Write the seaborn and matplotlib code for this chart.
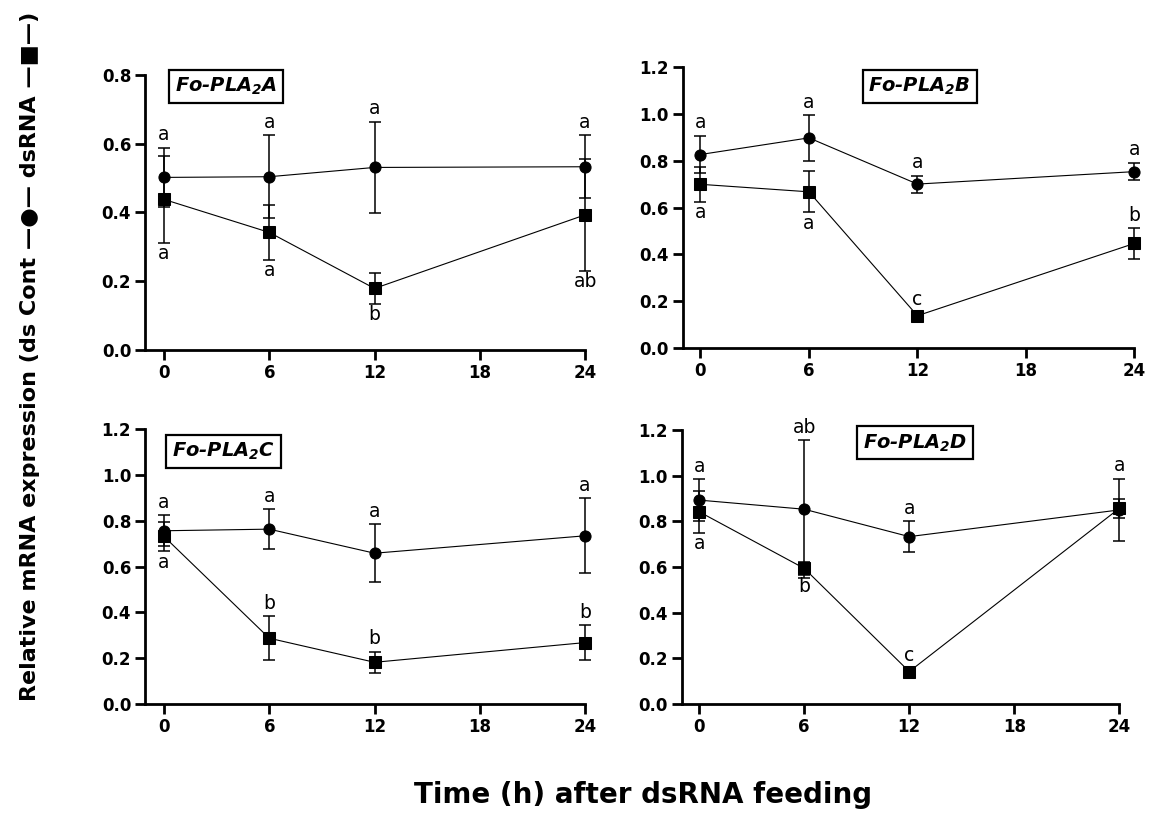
import numpy as np
import pandas as pd
import seaborn as sns
import matplotlib.pyplot as plt

# ---- data ----
times = [0, 6, 12, 24]
groups = ["dsCont", "dsRNA"]
panel_names = ["A", "B", "C", "D"]

cont_A = [0.502, 0.504, 0.531, 0.533]
cont_A_err = [0.087, 0.120, 0.133, 0.092]
rna_A = [0.438, 0.342, 0.179, 0.393]
rna_A_err = [0.127, 0.080, 0.044, 0.163]

cont_B = [0.826, 0.897, 0.700, 0.753]
cont_B_err = [0.079, 0.097, 0.036, 0.037]
rna_B = [0.699, 0.667, 0.139, 0.447]
rna_B_err = [0.075, 0.088, 0.012, 0.065]

cont_C = [0.756, 0.763, 0.658, 0.734]
cont_C_err = [0.068, 0.088, 0.127, 0.163]
rna_C = [0.731, 0.287, 0.182, 0.268]
rna_C_err = [0.065, 0.097, 0.047, 0.076]

cont_D = [0.893, 0.853, 0.733, 0.850]
cont_D_err = [0.091, 0.303, 0.068, 0.137]
rna_D = [0.842, 0.594, 0.142, 0.857]
rna_D_err = [0.093, 0.030, 0.012, 0.041]

# significance letters: (time index, letter, group, side)
letters_A = [(0, "a", "dsCont", "up"), (0, "a", "dsRNA", "down"),
             (1, "a", "dsCont", "up"), (1, "a", "dsRNA", "down"),
             (2, "a", "dsCont", "up"), (2, "b", "dsRNA", "down"),
             (3, "a", "dsCont", "up"), (3, "ab", "dsRNA", "down")]
letters_B = [(0, "a", "dsCont", "up"), (0, "a", "dsRNA", "down"),
             (1, "a", "dsCont", "up"), (1, "a", "dsRNA", "down"),
             (2, "a", "dsCont", "up"), (2, "c", "dsRNA", "up"),
             (3, "a", "dsCont", "up"), (3, "b", "dsRNA", "up")]
letters_C = [(0, "a", "dsCont", "up"), (0, "a", "dsRNA", "down"),
             (1, "a", "dsCont", "up"), (1, "b", "dsRNA", "up"),
             (2, "a", "dsCont", "up"), (2, "b", "dsRNA", "up"),
             (3, "a", "dsCont", "up"), (3, "b", "dsRNA", "up")]
letters_D = [(0, "a", "dsCont", "up"), (0, "a", "dsRNA", "down"),
             (1, "ab", "dsCont", "up"), (1, "b", "dsRNA", "down"),
             (2, "a", "dsCont", "up"), (2, "c", "dsRNA", "up"),
             (3, "a", "dsCont", "up")]

titles = {"A": "Fo-PLA$_2$A", "B": "Fo-PLA$_2$B", "C": "Fo-PLA$_2$C", "D": "Fo-PLA$_2$D"}
ymax = {"A": 0.8, "B": 1.2, "C": 1.2, "D": 1.2}

series = {
    "A": (cont_A, cont_A_err, rna_A, rna_A_err, letters_A),
    "B": (cont_B, cont_B_err, rna_B, rna_B_err, letters_B),
    "C": (cont_C, cont_C_err, rna_C, rna_C_err, letters_C),
    "D": (cont_D, cont_D_err, rna_D, rna_D_err, letters_D),
}

# ---- layout ----
sns.set_style("ticks")
plt.rcParams["font.family"] = ["DejaVu Sans"]
plt.rcParams["mathtext.fontset"] = "custom"
plt.rcParams["mathtext.bf"] = "DejaVu Sans:bold:italic"
plt.rcParams["mathtext.default"] = "bf"
for key in ("text.color", "axes.labelcolor", "xtick.color", "ytick.color", "axes.edgecolor"):
    plt.rcParams[key] = "black"

fig = plt.figure(figsize=(11.62, 8.15), dpi=100)

rects = {
    "A": [0.1248, 0.5706, 0.3787, 0.3374],
    "B": [0.5874, 0.5726, 0.3888, 0.3455],
    "C": [0.1248, 0.1362, 0.3787, 0.3374],
    "D": [0.5866, 0.1362, 0.3767, 0.3362],
}
xleft = {"A": -1.083, "B": -0.99, "C": -1.083, "D": -1.0}
title_pos = {"A": (0.184, 0.958), "B": (0.525, 0.929),
             "C": (0.178, 0.918), "D": (0.533, 0.953)}

for name in panel_names:
    cont, cont_err, rna, rna_err, letters = series[name]
    ax = fig.add_axes(rects[name])

    df = pd.DataFrame({
        "time": times * 2,
        "value": cont + rna,
        "group": ["dsCont"] * len(times) + ["dsRNA"] * len(times),
    })
    err = {"dsCont": (cont, cont_err), "dsRNA": (rna, rna_err)}

    # error bars behind the markers
    for g in groups:
        m, e = err[g]
        ax.errorbar(times, m, yerr=e, fmt="none", ecolor="k", elinewidth=1.1,
                    capsize=4.2, capthick=1.1, zorder=1.5, clip_on=False)

    sns.lineplot(data=df, x="time", y="value", style="group", style_order=groups,
                 markers={"dsCont": "o", "dsRNA": "s"}, dashes=False, color="k",
                 linewidth=0.8, markersize=8, markeredgecolor="k",
                 legend=False, ax=ax, clip_on=False)

    # significance letters
    for i, txt, g, side in letters:
        m, e = err[g]
        if side == "up":
            ax.annotate(txt, (times[i], m[i] + e[i]), xytext=(0, 2.5),
                        textcoords="offset points", ha="center", va="bottom",
                        fontsize=13.5)
        else:
            ax.annotate(txt, (times[i], m[i] - e[i]), xytext=(0, -1),
                        textcoords="offset points", ha="center", va="top",
                        fontsize=13.5)

    ax.text(*title_pos[name], titles[name], transform=ax.transAxes,
            ha="center", va="center", fontsize=14, fontweight="bold",
            fontstyle="italic",
            bbox=dict(boxstyle="square,pad=0.3", fc="white", ec="k", lw=1.6))

    ax.set_xlim(xleft[name], 24)
    ax.set_ylim(0, ymax[name])
    ax.set_xticks([0, 6, 12, 18, 24])
    ax.set_yticks(np.arange(0, ymax[name] + 0.01, 0.2))
    ax.set_yticklabels([f"{v:.1f}" for v in np.arange(0, ymax[name] + 0.01, 0.2)])
    ax.set_xlabel("")
    ax.set_ylabel("")
    for lab in ax.get_xticklabels() + ax.get_yticklabels():
        lab.set_fontweight("bold")
        lab.set_fontsize(12)
    ax.tick_params(width=2, length=7, pad=3, color="k")
    sns.despine(ax=ax)
    for sp in ("left", "bottom"):
        ax.spines[sp].set_linewidth(2)
    ax.patch.set_alpha(0)

fig.text(0.553, 0.0245, "Time (h) after dsRNA feeding", ha="center", va="center",
         fontsize=20, fontweight="bold")
fig.text(0.026, 0.563, "Relative mRNA expression (ds Cont \u2014\u25cf\u2014 dsRNA \u2014\u25a0\u2014)",
         rotation=90, ha="center", va="center", fontsize=16, fontweight="bold")

fig.savefig("out.png", dpi=100)
